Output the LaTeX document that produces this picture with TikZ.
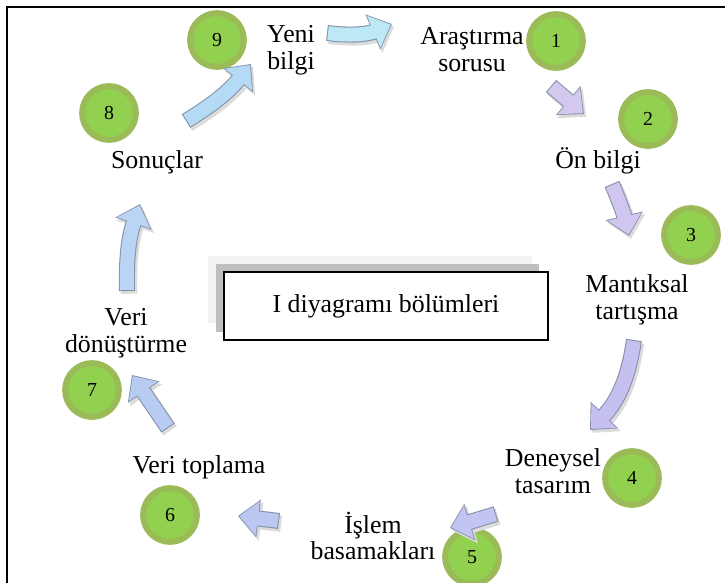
\documentclass[tikz,border=0pt]{standalone}
\usepackage{fontspec}
\setmainfont{Liberation Serif}
\usepackage{tikz}
\usetikzlibrary{arrows.meta}
\definecolor{ringgreen}{HTML}{9BBB59}
\definecolor{innergreen}{HTML}{92D050}
\definecolor{arrowline}{HTML}{8392A8}
\definecolor{shadegray}{HTML}{BFBFBF}
\definecolor{shadelight}{HTML}{F2F2F2}
\definecolor{ca}{HTML}{BDE9F6}
\definecolor{cb}{HTML}{D5C8EF}
\definecolor{cc}{HTML}{D0C6F0}
\definecolor{cd}{HTML}{C6C0F0}
\definecolor{ce}{HTML}{C2C5F2}
\definecolor{cf}{HTML}{BDC8F2}
\definecolor{cg}{HTML}{B8CCF2}
\definecolor{ch}{HTML}{B9D4F4}
\definecolor{ci}{HTML}{B4DAF6}

\begin{document}
\begin{tikzpicture}[scale=0.2]
\tikzstyle{every node}+=[inner sep=0pt]
\tikzstyle{num}=[circle, fill=innergreen, draw=ringgreen, line width=3.4pt, minimum size=30.6pt, font=\fontsize{11.3}{12}\selectfont]
\tikzstyle{lbl}=[align=center, font=\fontsize{14.7}{15.3}\selectfont]
\tikzstyle{blk}=[line width=7.9pt, -{Triangle[width=19pt,length=10.5pt]}, shorten >=0.8pt, shorten <=0.6pt,
  preaction={draw=black!14, line width=9.3pt, shorten >=0pt, shorten <=0pt, -{Triangle[width=21.5pt,length=12pt]}, transform canvas={xshift=1.2pt,yshift=-1.6pt}},
  preaction={draw=arrowline, line width=9.1pt, shorten >=0pt, shorten <=0pt, -{Triangle[width=21pt,length=11.8pt]}}]
\useasboundingbox (0,0) rectangle (72.5,-58.3);
\draw [black, line width=1pt] (72.5,-0.7) -- (0.7,-0.7) -- (0.7,-58.3);
\fill [shadelight] (20.8,-25.6) rectangle (53.2,-32.3);
\fill [shadegray] (21.6,-26.4) rectangle (53.9,-33.2);
\node [draw=black, line width=0.9pt, fill=white, minimum width=6.48cm, minimum height=1.36cm, lbl] (title) at (38.6,-30.6) {I diyagramı bölümleri};
\node [num] (n1) at (55.6,-4.1) {1};
\node [num] (n2) at (64.8,-11.9) {2};
\node [num] (n3) at (69.1,-23.5) {3};
\node [num] (n4) at (63.2,-47.8) {4};
\node [num] (n5) at (47.2,-55.7) {5};
\node [num] (n6) at (17.0,-51.5) {6};
\node [num] (n7) at (9.2,-39.0) {7};
\node [num] (n8) at (10.9,-11.3) {8};
\node [num] (n9) at (21.7,-4.0) {9};
\node [lbl] (soru) at (47.2,-5.0) {Araştırma\\sorusu};
\node [lbl] (onbilgi) at (59.8,-16.1) {Ön bilgi};
\node [lbl] (tartisma) at (63.7,-30.0) {Mantıksal\\tartışma};
\node [lbl] (tasarim) at (55.3,-47.1) {Deneysel\\tasarım};
\node [lbl] (islem) at (37.3,-53.6) {İşlem\\basamakları};
\node [lbl] (toplama) at (19.9,-46.7) {Veri toplama};
\node [lbl] (donustur) at (12.6,-33.3) {Veri\\dönüştürme};
\node [lbl] (sonuc) at (15.7,-16.2) {Sonuçlar};
\node [lbl] (yeni) at (29.1,-5.0) {Yeni\\bilgi};
\coordinate (ta) at (32.7,-3.3);
\coordinate (ha) at (39.2,-2.4);
\coordinate (tb) at (55.1,-8.6);
\coordinate (hb) at (58.4,-11.4);
\coordinate (tc) at (61.2,-18.4);
\coordinate (hc) at (62.9,-23.6);
\coordinate (td) at (63.4,-34.0);
\coordinate (hd) at (59.0,-43.0);
\coordinate (te) at (49.6,-51.4);
\coordinate (he) at (45.0,-52.8);
\coordinate (tf) at (27.9,-52.1);
\coordinate (hf) at (23.8,-51.6);
\coordinate (tg) at (16.8,-42.8);
\coordinate (hg) at (13.2,-37.5);
\coordinate (th) at (12.7,-29.1);
\coordinate (hh) at (14.0,-20.4);
\coordinate (ti) at (18.6,-12.1);
\coordinate (hi) at (25.1,-6.4);
\draw [blk, draw=ca] (ta) to [bend right=15] (ha);
\draw [blk, draw=cb] (tb) -- (hb);
\draw [blk, draw=cc] (tc) to [bend left=5] (hc);
\draw [blk, draw=cd] (td) to [bend left=18] (hd);
\draw [blk, draw=ce] (te) -- (he);
\draw [blk, draw=cf] (tf) -- (hf);
\draw [blk, draw=cg] (tg) -- (hg);
\draw [blk, draw=ch] (th) to [bend left=10] (hh);
\draw [blk, draw=ci] (ti) to [bend right=10] (hi);
\end{tikzpicture}
\end{document}
